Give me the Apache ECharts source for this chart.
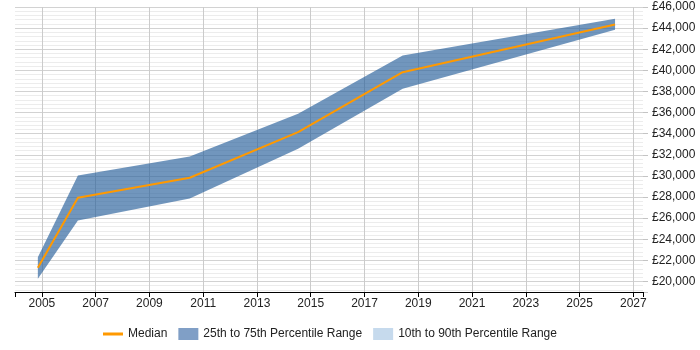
<!DOCTYPE html>
<html><head><meta charset="utf-8">
<script src="https://cdn.jsdelivr.net/npm/echarts@6/dist/echarts.min.js"></script>
<style>html,body{margin:0;padding:0;background:#fff}#c{width:700px;height:350px}</style>
</head><body><div id="c"></div>
<script>
const years = [2004.85, 2006.34, 2010.5, 2014.53, 2018.42, 2026.32];
const p25 = [20260, 25780, 27860, 32570, 38250, 43840];
const median = [21300, 27930, 29820, 34140, 39820, 44340];
const p75 = [22300, 30040, 31840, 35880, 41400, 44880];
const xTickYears = [2005, 2007, 2009, 2011, 2013, 2015, 2017, 2019, 2021, 2023, 2025, 2027];
const yTickValues = [20000, 22000, 24000, 26000, 28000, 30000, 32000, 34000, 36000, 38000, 40000, 42000, 44000, 46000];

function money(v) {
  return '£' + String(v).replace(/\B(?=(\d{3})+(?!\d))/g, ',');
}
const FONT = 'Liberation Sans, Arial, sans-serif';
const chart = echarts.init(document.getElementById('c'), null, {renderer: 'canvas'});
const T = 'rgba(0,0,0,0)', MIN = '#ececec', MAJ = '#d2d2d2';
const LINE_ICON = 'path://M0,0h0.01v0.01h-0.01z M0,4.5h20v3h-20z M0,11.99h0.01v0.01h-0.01z';

function bandRender(params, api) {
  if (params.dataIndex !== 0) return null;
  const pts = [];
  for (let i = 0; i < years.length; i++) pts.push(api.coord([years[i], p75[i]]));
  for (let i = years.length - 1; i >= 0; i--) pts.push(api.coord([years[i], p25[i]]));
  return {type: 'polygon', shape: {points: pts}, style: {fill: 'rgba(40,95,155,0.66)'}};
}

chart.setOption({
  animation: false,
  textStyle: {fontFamily: FONT},
  grid: {left: 15, right: 57, top: 7, bottom: 58},
  legend: {
    left: 103, top: 328, padding: 0, itemWidth: 20, itemHeight: 12, itemGap: 11,
    selectedMode: false,
    textStyle: {fontSize: 12, color: '#222', fontFamily: FONT},
    data: [
      {name: 'Median', icon: LINE_ICON, itemStyle: {color: '#ff9900'}},
      {name: '25th to 75th Percentile Range', icon: 'rect', itemStyle: {color: '#809fc6'}},
      {name: '10th to 90th Percentile Range', icon: 'rect', itemStyle: {color: '#c6daed'}}
    ]
  },
  xAxis: [{
    type: 'value', min: 2004, max: 2027.36, interval: 1,
    axisLine: {show: true, lineStyle: {color: '#000', width: 1}},
    axisTick: {show: false},
    axisLabel: {formatter: v => xTickYears.includes(v) ? String(v) : '', margin: 6, color: '#222', fontSize: 12, fontFamily: FONT},
    splitLine: {show: true, lineStyle: {color: [T, '#cbcbcb'], width: 1}}
  }, {
    type: 'value', min: 2003, max: 2026.36, minInterval: 2, maxInterval: 2, position: 'bottom',
    axisLine: {show: false}, axisLabel: {show: false}, splitLine: {show: false},
    axisTick: {show: true, length: 5, lineStyle: {color: '#000'}}
  }],
  yAxis: [{
    type: 'value', position: 'right', min: 19000, max: 46000, interval: 200,
    axisLine: {show: false}, axisTick: {show: false},
    axisLabel: {formatter: v => yTickValues.includes(v) ? money(v) : '', margin: 9, color: '#222', fontSize: 12, fontFamily: FONT},
    splitLine: {show: true, lineStyle: {color: [T, MIN, T, MIN, T, MAJ, T, MIN, T, MIN], width: 1}}
  }, {
    type: 'value', position: 'right', min: 19000, max: 46000, minInterval: 2000, maxInterval: 2000,
    axisLine: {show: false}, axisLabel: {show: false}, splitLine: {show: false},
    axisTick: {show: true, length: 5, lineStyle: {color: '#c4c4c4'}}
  }],
  series: [{
    name: '25th to 75th Percentile Range', type: 'custom', silent: true,
    color: '#809fc6',
    renderItem: bandRender,
    encode: {x: 0, y: [1, 2]},
    data: years.map((x, i) => [x, p25[i], p75[i]])
  }, {
    name: '10th to 90th Percentile Range', type: 'line', symbol: 'none', color: '#c6daed', data: []
  }, {
    name: 'Median', type: 'line', symbol: 'none', color: '#ff9900', z: 5,
    lineStyle: {width: 2, color: '#ff9900'},
    data: years.map((x, i) => [x, median[i]])
  }]
});
</script></body></html>
